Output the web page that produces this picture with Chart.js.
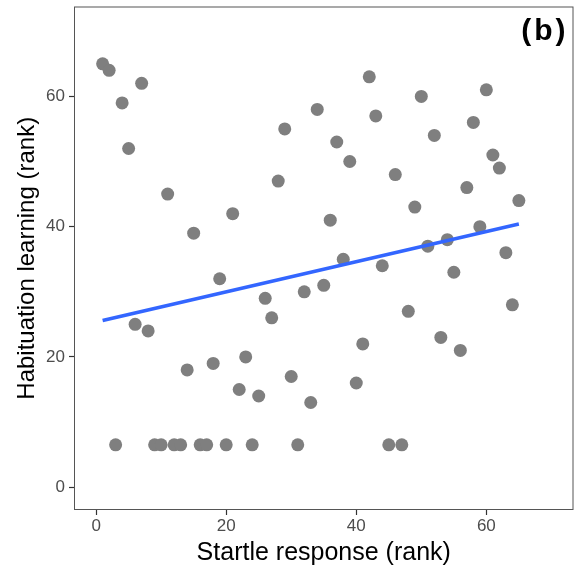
<!DOCTYPE html>
<html>
<head>
<meta charset="utf-8">
<script src="https://cdn.jsdelivr.net/npm/chart.js@4.4.1/dist/chart.umd.min.js"></script>
<style>
  html, body { margin: 0; padding: 0; background: #fff; }
  #wrap { width: 580px; height: 574px; }
</style>
</head>
<body>
<div id="wrap"><canvas id="rankChart" width="580" height="574"></canvas></div>
<script>
// startle response rank (x) and habituation learning rank (y)
const startleRank = [
  1, 2, 3, 4, 5, 6, 7, 8, 9, 10, 11, 12, 13, 14, 15, 16, 17, 18, 19, 20,
  21, 22, 23, 24, 25, 26, 27, 28, 29, 30, 31, 32, 33, 34, 35, 36, 37, 38, 39, 40,
  41, 42, 43, 44, 45, 46, 47, 48, 49, 50, 51, 52, 53, 54, 55, 56, 57, 58, 59, 60,
  61, 62, 63, 64, 65
];
const habituationRank = [
  65, 64, 6.5, 59, 52, 25, 62, 24, 6.5, 6.5, 45, 6.5, 6.5, 18, 39, 6.5, 6.5, 19, 32, 6.5,
  42, 15, 20, 6.5, 14, 29, 26, 47, 55, 17, 6.5, 30, 13, 58, 31, 41, 53, 35, 50, 16,
  22, 63, 57, 34, 6.5, 48, 6.5, 27, 43, 60, 37, 54, 23, 38, 33, 21, 46, 56, 40, 61,
  51, 49, 36, 28, 44
];
const xTicks = [0, 20, 40, 60];
const yTicks = [0, 20, 40, 60];
const panelLabel = '(b)';

// linear fit (like geom_smooth(method = "lm"))
function linearFit(xs, ys) {
  const n = xs.length;
  const mx = xs.reduce((a, b) => a + b, 0) / n;
  const my = ys.reduce((a, b) => a + b, 0) / n;
  let sxy = 0, sxx = 0;
  for (let i = 0; i < n; i++) {
    sxy += (xs[i] - mx) * (ys[i] - my);
    sxx += (xs[i] - mx) * (xs[i] - mx);
  }
  const b = sxy / sxx;
  return { a: my - b * mx, b: b };
}

const fit = linearFit(startleRank, habituationRank);
const xMin = Math.min(...startleRank), xMax = Math.max(...startleRank);
const fitLine = [
  { x: xMin, y: fit.a + fit.b * xMin },
  { x: xMax, y: fit.a + fit.b * xMax }
];
const points = startleRank.map((x, i) => ({ x: x, y: habituationRank[i] }));

const FONT = '"Liberation Sans", Arial, sans-serif';

// panel border + "(b)" label
const panelPlugin = {
  id: 'panelPlugin',
  afterDraw(chart) {
    const { ctx, chartArea, scales } = chart;
    ctx.save();
    ctx.strokeStyle = '#555';
    ctx.lineWidth = 1;
    ctx.strokeRect(chartArea.left + 0.5, chartArea.top + 0.5,
      chartArea.right - chartArea.left - 1, chartArea.bottom - chartArea.top - 1);
    ctx.fillStyle = '#000';
    ctx.font = 'bold 30px ' + FONT;
    ctx.letterSpacing = '3px';
    ctx.textAlign = 'center';
    ctx.textBaseline = 'middle';
    ctx.fillText(panelLabel, scales.x.getPixelForValue(69.0), scales.y.getPixelForValue(69.9));
    ctx.restore();
  }
};

new Chart(document.getElementById('rankChart').getContext('2d'), {
  type: 'scatter',
  data: {
    datasets: [
      {
        type: 'scatter',
        data: points,
        backgroundColor: '#7f7f7f',
        borderWidth: 0,
        pointRadius: 6.5,
        pointHoverRadius: 6.5,
        order: 2
      },
      {
        type: 'line',
        data: fitLine,
        borderColor: '#3366ff',
        borderWidth: 3.5,
        pointRadius: 0,
        fill: false,
        order: 1
      }
    ]
  },
  options: {
    responsive: false,
    animation: false,
    layout: { padding: { top: 5, right: 5, left: 0, bottom: 0 } },
    plugins: {
      legend: { display: false },
      tooltip: { enabled: false }
    },
    scales: {
      x: {
        type: 'linear',
        min: -3.4,
        max: 73.4,
        afterBuildTicks: (s) => { s.ticks = xTicks.map(v => ({ value: v })); },
        afterFit: (s) => { s.height = 64; s.paddingLeft = 0; s.paddingRight = 0; },
        grid: { display: true, drawOnChartArea: false, drawTicks: true, tickLength: 5, tickColor: '#333', tickWidth: 1.2 },
        border: { display: false },
        ticks: { color: '#4d4d4d', font: { family: FONT, size: 17 }, padding: 1, maxRotation: 0 },
        title: { display: true, text: 'Startle response (rank)', color: '#000', font: { family: FONT, size: 25 }, padding: { top: 0, bottom: 6 } }
      },
      y: {
        type: 'linear',
        min: -3.5,
        max: 73.8,
        afterBuildTicks: (s) => { s.ticks = yTicks.map(v => ({ value: v })); },
        afterFit: (s) => { s.width = 74; s.paddingTop = 0; s.paddingBottom = 0; },
        grid: { display: true, drawOnChartArea: false, drawTicks: true, tickLength: 5, tickColor: '#333', tickWidth: 1.2 },
        border: { display: false },
        ticks: { color: '#4d4d4d', font: { family: FONT, size: 17 }, padding: 4 },
        title: { display: true, text: 'Habituation learning (rank)', color: '#000', font: { family: FONT, size: 24 }, padding: { top: 13, bottom: 0 } }
      }
    }
  },
  plugins: [panelPlugin]
});
</script>
</body>
</html>
